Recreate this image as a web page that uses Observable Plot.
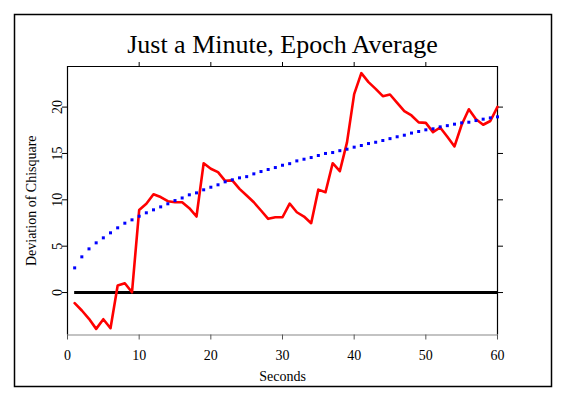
<!DOCTYPE html>
<html><head><meta charset="utf-8">
<script src="https://cdn.jsdelivr.net/npm/d3@7"></script>
<script src="https://cdn.jsdelivr.net/npm/@observablehq/plot@0.6"></script>
<style>html,body{margin:0;padding:0;background:#fff} svg{display:block}</style>
</head><body><div id="chart"></div>
<script>
const title = "Just a Minute, Epoch Average";
const xLabel = "Seconds";
const yLabel = "Deviation of Chisquare";
const seconds = [1,2,3,4,5,6,7,8,9,10,11,12,13,14,15,16,17,18,19,20,21,22,23,24,25,26,27,28,29,30,
  31,32,33,34,35,36,37,38,39,40,41,42,43,44,45,46,47,48,49,50,51,52,53,54,55,56,57,58,59,60];
const deviation = [-1.15,-1.94,-2.84,-3.92,-2.88,-3.85,0.76,1.0,0.03,8.9,
  9.57,10.6,10.3,9.85,9.74,9.74,9.1,8.2,13.95,13.35,
  12.98,12.05,12.1,11.18,10.46,9.74,8.85,7.95,8.12,8.12,
  9.6,8.66,8.2,7.48,11.1,10.82,13.95,13.09,16.2,21.4,
  23.66,22.7,21.97,21.18,21.36,20.46,19.56,19.1,18.35,18.3,
  17.3,17.8,16.8,15.76,18.1,19.77,18.7,18.1,18.5,20.03];
const expected = [2.66,3.85,4.71,5.36,5.9,6.44,6.98,7.48,7.84,8.23,
  8.6,8.92,9.24,9.57,9.92,10.2,10.54,10.75,11.08,11.36,
  11.62,11.94,12.16,12.37,12.5,12.8,13.05,13.27,13.48,13.73,
  13.9,14.2,14.38,14.56,14.78,15.0,15.1,15.3,15.46,15.68,
  15.86,16.07,16.21,16.4,16.6,16.8,16.97,17.2,17.37,17.55,
  17.66,17.87,18.0,18.16,18.3,18.37,18.55,18.7,18.84,18.95];
const xTicks = [0,10,20,30,40,50,60];
const xTopTicks = [10,20,30,40,50];
const yTicks = [0,5,10,15,20];
const xDomain = [0, 60];
const yDomain = [-4.58, 24.38];

const data = seconds.map((s, i) => ({s, dev: deviation[i], exp: expected[i]}));
const font = "'Liberation Serif', 'Times New Roman', serif";

const chart = Plot.plot({
  width: 565, height: 397,
  marginLeft: 67, marginRight: 68, marginTop: 66, marginBottom: 62.5,
  style: {fontFamily: font, fontSize: "13px", background: "#fff", color: "#000"},
  x: {domain: xDomain},
  y: {domain: yDomain},
  marks: [
    Plot.ruleY([yDomain[0]], {stroke: "#888", strokeWidth: 1.2}),
    Plot.ruleY([yDomain[1]], {stroke: "#000", strokeWidth: 1.2}),
    Plot.ruleX(xDomain, {stroke: "#000", strokeWidth: 1.2}),
    Plot.axisX(xTicks, {anchor: "bottom", tickSize: 5, tickPadding: 10, stroke: "#555", fontSize: 14, label: null}),
    Plot.axisX(xTopTicks, {anchor: "top", tickSize: 5, fill: "none", label: null}),
    Plot.axisY(yTicks, {anchor: "left", tickSize: 5, tickPadding: 1, tickRotate: -90, fontSize: 14, label: null}),
    Plot.axisY(yTicks, {anchor: "right", tickSize: 5, fill: "none", label: null}),
    Plot.ruleY([0], {x1: seconds[0], x2: seconds[seconds.length - 1], stroke: "#000", strokeWidth: 3}),
    Plot.line(data, {x: "s", y: "dev", stroke: "#ff0000", strokeWidth: 2.6}),
    Plot.dot(data, {x: "s", y: "exp", symbol: "square", r: 1.7, fill: "#0000ff"}),
    Plot.text([title], {text: d => d, frameAnchor: "top", lineAnchor: "bottom", dy: -14, fontSize: 26}),
    Plot.text([xLabel], {text: d => d, frameAnchor: "bottom", textAnchor: "middle", lineAnchor: "bottom", dy: 45.5, fontSize: 14}),
    Plot.text([yLabel], {text: d => d, frameAnchor: "left", textAnchor: "middle", lineAnchor: "bottom", rotate: -90, dx: -32, fontSize: 14})
  ]
});

d3.select(chart).append("rect")
  .attr("x", 14.5).attr("y", 14.5).attr("width", 537).attr("height", 372)
  .attr("fill", "none").attr("stroke", "#000").attr("stroke-width", 1.5);

document.getElementById("chart").appendChild(chart);
</script>
</body></html>
